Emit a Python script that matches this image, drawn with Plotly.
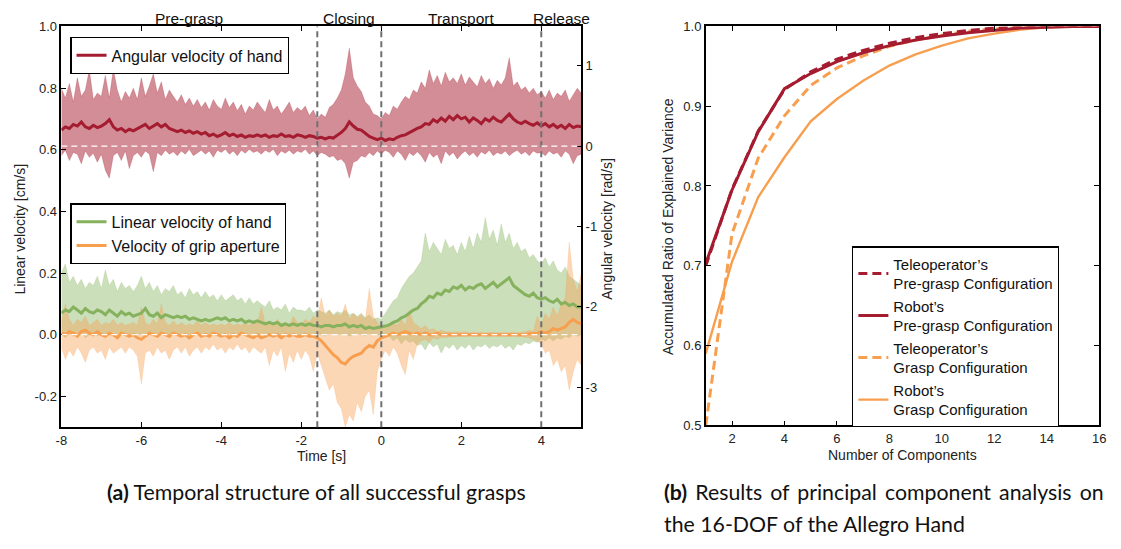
import plotly.graph_objects as go

# ---------------- data: left panel (time series, sampled every 0.1 s) ----------------
time_s = [round(-8 + 0.1 * i, 1) for i in range(131)]

ang_mean = [0.20, 0.24, 0.22, 0.27, 0.25, 0.30, 0.24, 0.22, 0.26, 0.23,
            0.25, 0.28, 0.33, 0.24, 0.20, 0.22, 0.18, 0.21, 0.19, 0.22,
            0.24, 0.27, 0.22, 0.25, 0.28, 0.24, 0.27, 0.22, 0.20, 0.18,
            0.20, 0.17, 0.19, 0.16, 0.18, 0.15, 0.17, 0.13, 0.15, 0.12,
            0.14, 0.17, 0.13, 0.15, 0.12, 0.14, 0.11, 0.13, 0.12, 0.14,
            0.12, 0.14, 0.11, 0.13, 0.12, 0.15, 0.12, 0.13, 0.11, 0.14,
            0.13, 0.11, 0.13, 0.12, 0.10, 0.11, 0.09, 0.11, 0.10, 0.13,
            0.17, 0.22, 0.30, 0.25, 0.21, 0.20, 0.16, 0.12, 0.10, 0.08,
            0.10, 0.07, 0.09, 0.08, 0.11, 0.13, 0.14, 0.17, 0.19, 0.22,
            0.24, 0.28, 0.27, 0.33, 0.30, 0.35, 0.31, 0.37, 0.33, 0.38,
            0.34, 0.36, 0.30, 0.35, 0.32, 0.28, 0.34, 0.31, 0.36, 0.32,
            0.30, 0.35, 0.40, 0.34, 0.30, 0.28, 0.31, 0.28, 0.26, 0.29,
            0.25, 0.28, 0.24, 0.27, 0.23, 0.26, 0.22, 0.27, 0.23, 0.25,
            0.24]
ang_upper = [0.72, 0.60, 0.78, 0.55, 0.85, 0.62, 0.70, 0.95, 0.58, 0.66,
             0.62, 0.88, 0.60, 0.96, 0.70, 0.55, 0.68, 0.60, 0.72, 0.58,
             0.85, 0.62, 0.75, 0.90, 0.66, 0.80, 0.58, 0.70, 0.62, 0.55,
             0.64, 0.52, 0.60, 0.50, 0.58, 0.48, 0.55, 0.45, 0.58, 0.50,
             0.46, 0.60, 0.48, 0.55, 0.44, 0.52, 0.40, 0.50, 0.45, 0.55,
             0.48, 0.42, 0.58, 0.45, 0.50, 0.40, 0.47, 0.55, 0.42, 0.48,
             0.44, 0.50, 0.38, 0.45, 0.34, 0.40, 0.36, 0.48, 0.52, 0.60,
             0.70, 0.90, 1.22, 0.85, 0.75, 0.68, 0.55, 0.50, 0.40, 0.38,
             0.34, 0.42, 0.38, 0.50, 0.46, 0.55, 0.62, 0.58, 0.70, 0.66,
             0.80, 0.72, 0.95, 0.78, 0.88, 0.75, 0.92, 0.80, 0.85, 0.78,
             0.90, 0.76, 0.86, 0.80, 0.74, 0.88, 0.78, 0.84, 0.72, 0.82,
             0.76, 0.85, 1.10, 0.75, 0.80, 0.70, 0.74, 0.66, 0.72, 0.64,
             0.68, 0.60, 0.70, 0.58, 0.66, 0.62, 0.70, 0.56, 0.64, 0.72,
             0.66]
ang_lower = [-0.12, -0.05, -0.18, -0.08, -0.10, -0.22, -0.06, -0.14, -0.09, -0.20,
             -0.10, -0.30, -0.40, -0.12, -0.08, -0.18, -0.06, -0.28, -0.12, -0.08,
             -0.14, -0.06, -0.10, -0.32, -0.08, -0.12, -0.05, -0.10, -0.07, -0.12,
             -0.06, -0.10, -0.04, -0.12, -0.08, -0.05, -0.10, -0.06, -0.14, -0.05,
             -0.08, -0.04, -0.10, -0.06, -0.12, -0.05, -0.09, -0.04, -0.08, -0.06,
             -0.10, -0.05, -0.08, -0.04, -0.12, -0.06, -0.09, -0.05, -0.10, -0.06,
             -0.08, -0.04, -0.10, -0.06, -0.12, -0.08, -0.10, -0.14, -0.12, -0.18,
             -0.16, -0.22, -0.40, -0.20, -0.18, -0.12, -0.14, -0.08, -0.12, -0.06,
             -0.10, -0.05, -0.08, -0.14, -0.06, -0.10, -0.18, -0.08, -0.12, -0.07,
             -0.12, -0.20, -0.08, -0.14, -0.10, -0.22, -0.06, -0.12, -0.08, -0.16,
             -0.10, -0.06, -0.12, -0.08, -0.14, -0.07, -0.10, -0.05, -0.12, -0.08,
             -0.10, -0.06, -0.12, -0.08, -0.05, -0.10, -0.07, -0.12, -0.06, -0.09,
             -0.08, -0.12, -0.06, -0.10, -0.08, -0.14, -0.06, -0.10, -0.22, -0.12,
             -0.10]

lin_mean = [0.070, 0.080, 0.075, 0.090, 0.080, 0.070, 0.085, 0.075, 0.070, 0.080,
            0.075, 0.065, 0.080, 0.070, 0.060, 0.075, 0.065, 0.070, 0.060, 0.065,
            0.070, 0.085, 0.065, 0.060, 0.070, 0.055, 0.065, 0.060, 0.055, 0.060,
            0.055, 0.060, 0.050, 0.055, 0.050, 0.045, 0.050, 0.045, 0.050, 0.055,
            0.050, 0.055, 0.045, 0.050, 0.045, 0.050, 0.040, 0.045, 0.040, 0.045,
            0.040, 0.035, 0.040, 0.035, 0.040, 0.030, 0.035, 0.030, 0.035, 0.030,
            0.035, 0.030, 0.035, 0.030, 0.030, 0.025, 0.030, 0.030, 0.025, 0.030,
            0.030, 0.035, 0.025, 0.030, 0.025, 0.030, 0.020, 0.025, 0.020, 0.022,
            0.025, 0.028, 0.032, 0.040, 0.045, 0.055, 0.060, 0.070, 0.080, 0.085,
            0.100, 0.110, 0.125, 0.120, 0.135, 0.130, 0.145, 0.140, 0.155, 0.150,
            0.160, 0.145, 0.155, 0.150, 0.160, 0.165, 0.150, 0.160, 0.170, 0.155,
            0.165, 0.175, 0.185, 0.160, 0.150, 0.140, 0.130, 0.125, 0.135, 0.120,
            0.115, 0.120, 0.110, 0.105, 0.115, 0.100, 0.105, 0.095, 0.100, 0.090,
            0.090]
lin_upper = [0.20, 0.23, 0.17, 0.19, 0.16, 0.18, 0.15, 0.17, 0.16, 0.19,
             0.15, 0.21, 0.16, 0.18, 0.14, 0.17, 0.15, 0.16, 0.14, 0.16,
             0.19, 0.15, 0.17, 0.14, 0.16, 0.13, 0.15, 0.14, 0.16, 0.13,
             0.14, 0.12, 0.15, 0.13, 0.14, 0.12, 0.14, 0.12, 0.13, 0.11,
             0.13, 0.11, 0.12, 0.13, 0.11, 0.12, 0.10, 0.12, 0.10, 0.11,
             0.10, 0.09, 0.11, 0.08, 0.09, 0.08, 0.10, 0.07, 0.09, 0.08,
             0.080, 0.075, 0.090, 0.070, 0.080, 0.075, 0.070, 0.080, 0.065, 0.075,
             0.070, 0.080, 0.065, 0.070, 0.060, 0.070, 0.055, 0.065, 0.050, 0.055,
             0.05, 0.07, 0.09, 0.11, 0.12, 0.15, 0.17, 0.19, 0.20, 0.22,
             0.24, 0.33, 0.27, 0.30, 0.28, 0.26, 0.31, 0.28, 0.29, 0.26,
             0.30, 0.27, 0.32, 0.28, 0.33, 0.30, 0.38, 0.31, 0.34, 0.29,
             0.36, 0.30, 0.33, 0.28, 0.30, 0.27, 0.28, 0.25, 0.26, 0.24,
             0.23, 0.25, 0.22, 0.24, 0.21, 0.20, 0.22, 0.19, 0.18, 0.17,
             0.16]
lin_lower = [0.000, -0.010, 0.005, -0.005, 0.000, 0.010, -0.010, 0.000, 0.005, -0.005,
             0.005, -0.005, 0.000, 0.010, -0.005, 0.000, 0.005, -0.010, 0.000, 0.005,
             0.000, -0.005, 0.010, 0.000, -0.005, 0.005, 0.000, -0.010, 0.005, 0.000,
             -0.005, 0.005, 0.000, -0.005, 0.010, 0.000, -0.005, 0.005, 0.000, 0.005,
             0.000, -0.005, 0.005, 0.000, -0.010, 0.005, 0.000, 0.005, -0.005, 0.000,
             0.005, 0.000, -0.005, 0.005, 0.000, -0.005, 0.005, 0.000, 0.005, -0.005,
             0.000, 0.005, -0.005, 0.000, 0.005, 0.000, -0.005, 0.005, 0.000, 0.005,
             0.000, 0.005, -0.005, 0.000, 0.005, 0.000, -0.005, 0.005, 0.000, 0.000,
             0.000, -0.010, -0.005, -0.020, -0.010, -0.030, -0.015, -0.025, -0.020, -0.035,
             -0.030, -0.050, -0.025, -0.040, -0.030, -0.060, -0.035, -0.045, -0.030, -0.050,
             -0.035, -0.045, -0.030, -0.050, -0.035, -0.040, -0.030, -0.045, -0.035, -0.040,
             -0.030, -0.045, -0.035, -0.050, -0.030, -0.035, -0.025, -0.030, -0.020, -0.025,
             -0.015, -0.020, -0.010, -0.020, -0.010, -0.015, -0.005, -0.010, 0.000, -0.005,
             0.000]

grip_mean = [0.005, 0.000, 0.010, 0.005, -0.005, 0.010, 0.015, 0.005, 0.000, 0.010,
             0.000, -0.005, 0.005, 0.000, -0.010, 0.005, 0.000, -0.005, 0.000, -0.010,
             -0.015, -0.005, 0.005, 0.000, -0.005, 0.005, 0.000, -0.005, 0.005, 0.000,
             -0.005, 0.000, -0.010, 0.000, 0.005, -0.005, 0.000, -0.005, 0.005, 0.000,
             -0.005, 0.000, -0.010, 0.000, -0.005, 0.005, 0.000, -0.005, -0.010, 0.000,
             -0.010, -0.005, 0.000, -0.005, 0.000, -0.010, 0.000, -0.005, 0.000, -0.005,
             -0.005, 0.000, -0.005, -0.005, -0.010, -0.020, -0.035, -0.050, -0.065, -0.075,
             -0.090, -0.095, -0.080, -0.070, -0.065, -0.060, -0.045, -0.035, -0.040, -0.020,
             -0.010, -0.005, 0.000, 0.005, 0.000, 0.005, 0.010, 0.005, 0.000, 0.005,
             0.000, 0.005, 0.000, 0.000, 0.005, 0.000, 0.000, 0.000, 0.002, 0.000,
             0.000, 0.002, 0.000, 0.000, 0.002, 0.000, 0.000, 0.002, 0.000, 0.000,
             0.000, 0.000, 0.002, 0.000, 0.000, 0.002, 0.000, 0.003, 0.005, 0.005,
             0.010, 0.005, 0.010, 0.020, 0.015, 0.020, 0.025, 0.040, 0.050, 0.040,
             0.035]
grip_upper = [0.040, 0.100, 0.050, 0.030, 0.050, 0.040, 0.060, 0.030, 0.040, 0.050,
              0.030, 0.040, 0.035, 0.050, 0.030, 0.040, 0.030, 0.035, 0.040, 0.030,
              0.090, 0.040, 0.030, 0.050, 0.035, 0.100, 0.040, 0.030, 0.045, 0.030,
              0.040, 0.030, 0.035, 0.030, 0.045, 0.030, 0.040, 0.030, 0.035, 0.030,
              0.035, 0.030, 0.040, 0.030, 0.035, 0.030, 0.040, 0.030, 0.045, 0.035,
              0.090, 0.035, 0.040, 0.030, 0.050, 0.035, 0.040, 0.030, 0.060, 0.040,
              0.035, 0.050, 0.040, 0.060, 0.050, 0.120, 0.060, 0.080, 0.060, 0.070,
              0.060, 0.100, 0.050, 0.070, 0.055, 0.065, 0.050, 0.150, 0.060, 0.040,
              0.020, 0.030, 0.025, 0.040, 0.030, 0.050, 0.030, 0.080, 0.040, 0.030,
              0.020, 0.030, 0.015, 0.020, 0.010, 0.015, 0.010, 0.010, 0.008, 0.010,
              0.008, 0.010, 0.006, 0.008, 0.006, 0.008, 0.006, 0.007, 0.006, 0.007,
              0.006, 0.007, 0.006, 0.008, 0.006, 0.008, 0.010, 0.015, 0.010, 0.060,
              0.030, 0.070, 0.050, 0.090, 0.060, 0.100, 0.120, 0.300, 0.180, 0.140,
              0.200]
grip_lower = [-0.04, -0.08, -0.05, -0.07, -0.04, -0.06, -0.09, -0.05, -0.04, -0.06,
              -0.05, -0.08, -0.04, -0.06, -0.05, -0.04, -0.06, -0.04, -0.05, -0.07,
              -0.16, -0.06, -0.05, -0.07, -0.04, -0.06, -0.05, -0.08, -0.05, -0.04,
              -0.06, -0.04, -0.07, -0.05, -0.04, -0.06, -0.04, -0.05, -0.03, -0.05,
              -0.04, -0.06, -0.04, -0.05, -0.03, -0.05, -0.04, -0.06, -0.04, -0.05,
              -0.06, -0.04, -0.10, -0.05, -0.07, -0.04, -0.12, -0.06, -0.09, -0.05,
              -0.08, -0.05, -0.07, -0.12, -0.06, -0.10, -0.14, -0.18, -0.16, -0.22,
              -0.24, -0.30, -0.26, -0.28, -0.22, -0.25, -0.20, -0.18, -0.26, -0.12,
              -0.08, -0.05, -0.07, -0.04, -0.06, -0.10, -0.13, -0.05, -0.08, -0.03,
              -0.020, -0.015, -0.025, -0.010, -0.015, -0.008, -0.010, -0.006, -0.008, -0.005,
              -0.005, -0.006, -0.004, -0.005, -0.006, -0.004, -0.005, -0.006, -0.004, -0.005,
              -0.004, -0.005, -0.006, -0.004, -0.005, -0.006, -0.008, -0.010, -0.015, -0.020,
              -0.03, -0.06, -0.05, -0.10, -0.08, -0.12, -0.10, -0.18, -0.12, -0.08,
              -0.10]

phase_names = ["Pre-grasp", "Closing", "Transport", "Release"]
phase_centers = [-4.8, -0.8, 2.0, 4.5]
phase_bounds = [-1.6, 0.0, 4.0]

left_xticks = [-8, -6, -4, -2, 0, 2, 4]
left_xtext = ["-8", "-6", "-4", "-2", "0", "2", "4"]
left_yticks = [-0.2, 0.0, 0.2, 0.4, 0.6, 0.8, 1.0]
left_ytext = ["-0.2", "0.0", "0.2", "0.4", "0.6", "0.8", "1.0"]
ang_yticks = [-3, -2, -1, 0, 1]
ang_ytext = ["-3", "-2", "-1", "0", "1"]

# ---------------- data: right panel (PCA) ----------------
n_components = [1, 2, 3, 4, 5, 6, 7, 8, 9, 10, 11, 12, 13, 14, 15, 16]
tele_pregrasp = [0.700, 0.796, 0.869, 0.921, 0.943, 0.959, 0.970, 0.979, 0.986, 0.991, 0.995, 0.998, 0.999, 1.000, 1.000, 1.000]
robot_pregrasp = [0.703, 0.795, 0.868, 0.922, 0.941, 0.956, 0.967, 0.976, 0.983, 0.988, 0.992, 0.995, 0.998, 0.999, 1.000, 1.000]
tele_grasp = [0.500, 0.740, 0.835, 0.888, 0.926, 0.948, 0.963, 0.975, 0.983, 0.989, 0.994, 0.997, 0.999, 1.000, 1.000, 1.000]
robot_grasp = [0.590, 0.705, 0.786, 0.836, 0.881, 0.909, 0.932, 0.951, 0.965, 0.976, 0.985, 0.991, 0.996, 0.999, 1.000, 1.000]

right_xticks = [2, 4, 6, 8, 10, 12, 14, 16]
right_yticks = [0.5, 0.6, 0.7, 0.8, 0.9, 1.0]
right_ytext = ["0.5", "0.6", "0.7", "0.8", "0.9", "1.0"]

for arr in (ang_mean, ang_upper, ang_lower, lin_mean, lin_upper, lin_lower, grip_mean, grip_upper, grip_lower):
    assert len(arr) == len(time_s), len(arr)

# ---------------- styling ----------------
RED = "#A51C30"
GREEN = "#86B25E"
ORANGE = "#F79F4F"
FONT = "Liberation Sans, Arial, sans-serif"
W, H = 1121, 549

def px_x(p):
    return p / W

def px_y(p):
    return 1 - p / H

fig = go.Figure()

def band(x, lo, hi, rgb, alpha, yaxis):
    fig.add_trace(go.Scatter(
        x=list(x) + list(x)[::-1], y=list(hi) + list(lo)[::-1],
        fill="toself", fillcolor=f"rgba({rgb},{alpha})",
        line=dict(color=f"rgba({rgb},{alpha * 0.55})", width=0.8),
        mode="lines", hoverinfo="skip", showlegend=False,
        xaxis="x", yaxis=yaxis))

# green and orange bands (left axis)
band(time_s, lin_lower, lin_upper, "134,178,94", 0.42, "y")
band(time_s, grip_lower, grip_upper, "247,160,80", 0.42, "y")
fig.add_trace(go.Scatter(x=time_s, y=lin_mean, mode="lines", name="Linear velocity of hand",
                         line=dict(color=GREEN, width=3), legend="legend2",
                         xaxis="x", yaxis="y"))
fig.add_trace(go.Scatter(x=time_s, y=grip_mean, mode="lines", name="Velocity of grip aperture",
                         line=dict(color=ORANGE, width=3), legend="legend2",
                         xaxis="x", yaxis="y"))
# red band (right axis)
band(time_s, ang_lower, ang_upper, "165,28,48", 0.5, "y2")
fig.add_trace(go.Scatter(x=time_s, y=ang_mean, mode="lines", name="Angular velocity of hand",
                         line=dict(color=RED, width=3), legend="legend",
                         xaxis="x", yaxis="y2"))

# right panel
right_series = [
    ("Teleoperator’s<br>Pre-grasp Configuration", tele_pregrasp, RED, "dash", 3.0, 1),
    ("Robot’s<br>Pre-grasp Configuration", robot_pregrasp, RED, "solid", 3.0, 2),
    ("Teleoperator’s<br>Grasp Configuration", tele_grasp, ORANGE, "dash", 3.0, 3),
    ("Robot’s<br>Grasp Configuration", robot_grasp, ORANGE, "solid", 2.4, 4),
]
for name, vals, col, dash, lw, rank in reversed(right_series):
    fig.add_trace(go.Scatter(
        x=n_components, y=vals, mode="lines", name=name,
        line=dict(color=col, width=lw, dash=("9px,5px" if dash == "dash" else "solid")),
        legend="legend3", legendrank=rank, legendgroup=f"g{rank}",
        xaxis="x2", yaxis="y3"))

axis_common = dict(showline=True, linecolor="black", linewidth=1.5, ticks="inside",
                   ticklen=5, tickwidth=1, tickcolor="black", showgrid=False, zeroline=False,
                   tickfont=dict(family=FONT, size=13, color="#222"))

left_dom_x = [px_x(56), px_x(582)]
left_dom_y = [px_y(432), px_y(20)]
right_dom_x = [px_x(708), px_x(1106)]
right_dom_y = [px_y(430), px_y(20)]

shapes = []
for b in phase_bounds:
    shapes.append(dict(type="line", xref="x", yref="paper", x0=b, x1=b,
                       y0=left_dom_y[0], y1=left_dom_y[1], layer="above",
                       line=dict(color="#707070", width=2, dash="6px,4px")))
shapes.append(dict(type="line", xref="x", yref="y", x0=-8, x1=5, y0=0, y1=0, layer="above",
                   line=dict(color="white", width=1.3, dash="6px,4px")))
shapes.append(dict(type="line", xref="x", yref="y2", x0=-8, x1=5, y0=0, y1=0, layer="above",
                   line=dict(color="white", width=1.3, dash="6px,4px")))

annotations = []
for nm, c in zip(phase_names, phase_centers):
    annotations.append(dict(text=nm, x=c, xref="x", y=px_y(12), yref="paper",
                            showarrow=False, font=dict(family=FONT, size=15.5, color="#111"),
                            xanchor="center", yanchor="middle"))
title_font = dict(family=FONT, size=14, color="#222")
cap_font = dict(family="Lato", size=21.3, color="#111")
annotations += [
    dict(text="Time [s]", x=px_x(319), y=px_y(462), xref="paper", yref="paper",
         showarrow=False, font=title_font, xanchor="center", yanchor="middle"),
    dict(text="Linear velocity [cm/s]", x=px_x(14), y=px_y(228), xref="paper", yref="paper",
         showarrow=False, font=title_font, textangle=-90, xanchor="center", yanchor="middle"),
    dict(text="Angular velocity [rad/s]", x=px_x(608), y=px_y(228), xref="paper", yref="paper",
         showarrow=False, font=title_font, textangle=-90, xanchor="center", yanchor="middle"),
    dict(text="Accumulated Ratio of Explained Variance", x=px_x(670), y=px_y(226),
         xref="paper", yref="paper", showarrow=False, font=title_font, textangle=-90,
         xanchor="center", yanchor="middle"),
    dict(text="Number of Components", x=px_x(907), y=px_y(461), xref="paper", yref="paper",
         showarrow=False, font=title_font, xanchor="center", yanchor="middle"),
    dict(text="<b>(a)</b> Temporal structure of all successful grasps", x=px_x(314), y=px_y(499),
         xref="paper", yref="paper", showarrow=False, font=cap_font,
         xanchor="center", yanchor="middle"),
    dict(text="<b>(b)</b> \u2009Results \u2009of \u2009principal \u2009component \u2009analysis \u2009on",
         x=px_x(664), y=px_y(499), xref="paper", yref="paper", showarrow=False, font=cap_font,
         xanchor="left", yanchor="middle"),
    dict(text="the 16-DOF of the Allegro Hand", x=px_x(664), y=px_y(532),
         xref="paper", yref="paper", showarrow=False, font=cap_font,
         xanchor="left", yanchor="middle"),
]

legend_common = dict(bgcolor="white", bordercolor="black", borderwidth=1.3,
                     xanchor="left", yanchor="top", itemwidth=30, traceorder="normal")

fig.update_layout(
    width=W, height=H, margin=dict(l=0, r=0, t=0, b=0),
    paper_bgcolor="white", plot_bgcolor="white",
    xaxis=dict(domain=left_dom_x, range=[-8, 5], tickvals=left_xticks, ticktext=left_xtext,
               mirror="ticks", anchor="y", **axis_common),
    yaxis=dict(domain=left_dom_y, range=[-0.3, 1.0], tickvals=left_yticks, ticktext=left_ytext,
               mirror=True, anchor="x", **axis_common),
    yaxis2=dict(range=[-3.5, 1.49], tickvals=ang_yticks, ticktext=ang_ytext,
                overlaying="y", side="right", anchor="x", **axis_common),
    xaxis2=dict(domain=right_dom_x, range=[1, 16], tickvals=right_xticks,
                mirror="ticks", anchor="y3", **axis_common),
    yaxis3=dict(domain=right_dom_y, range=[0.5, 1.0], tickvals=right_yticks, ticktext=right_ytext,
                mirror="ticks", anchor="x2", **axis_common),
    shapes=shapes, annotations=annotations,
    legend=dict(x=px_x(65), y=px_y(31), font=dict(family=FONT, size=16, color="#111"),
                **legend_common),
    legend2=dict(x=px_x(65), y=px_y(202), font=dict(family=FONT, size=16, color="#111"),
                 **legend_common),
    legend3=dict(x=px_x(856), y=px_y(246), tracegroupgap=0,
                 font=dict(family=FONT, size=15, color="#111"), **legend_common),
    showlegend=True,
)

fig.write_html("out.html")
